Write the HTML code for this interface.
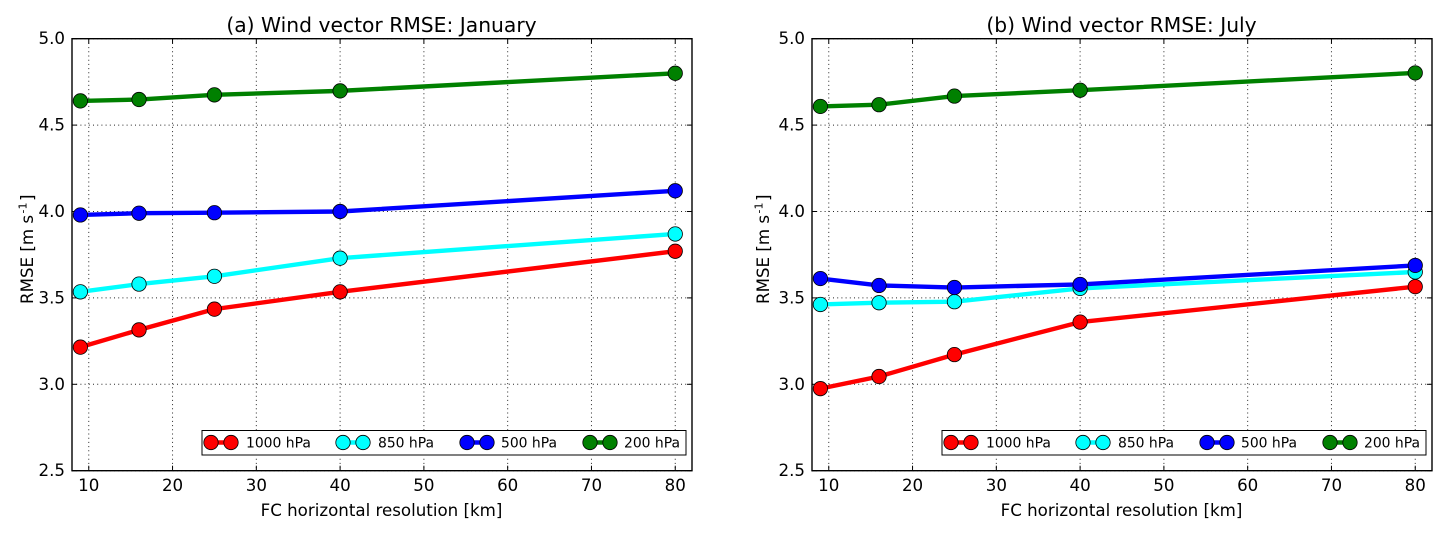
<!DOCTYPE html>
<html lang="en">
<head>
<meta charset="utf-8">
<title>Wind vector RMSE</title>
<style>
html,body{margin:0;padding:0;background:#fff;width:1452px;height:537px;overflow:hidden}
svg{display:block}
text{font-family:"DejaVu Sans","Liberation Sans",sans-serif;fill:#000}
</style>
</head>
<body>
<svg id="chart" width="1452" height="537" viewBox="0 0 1452 537" xmlns="http://www.w3.org/2000/svg"></svg>
<script>
const resolutions = [9, 16, 25, 40, 80];
const levels = ['1000 hPa', '850 hPa', '500 hPa', '200 hPa'];
const colors = ['#ff0000', '#00ffff', '#0000ff', '#008000'];
const xTicks = [10, 20, 30, 40, 50, 60, 70, 80];
const yTicks = [2.5, 3.0, 3.5, 4.0, 4.5, 5.0];
const janTitle = '(a) Wind vector RMSE: January';
const julTitle = '(b) Wind vector RMSE: July';
const jan1000 = [3.215, 3.315, 3.435, 3.535, 3.77];
const jan850 = [3.535, 3.58, 3.625, 3.73, 3.87];
const jan500 = [3.98, 3.99, 3.993, 4.0, 4.12];
const jan200 = [4.64, 4.648, 4.675, 4.698, 4.80];
const jul1000 = [2.975, 3.045, 3.172, 3.36, 3.565];
const jul850 = [3.462, 3.472, 3.478, 3.555, 3.65];
const jul500 = [3.612, 3.572, 3.56, 3.578, 3.688];
const jul200 = [4.608, 4.618, 4.668, 4.702, 4.802];

const NS = 'http://www.w3.org/2000/svg';
const root = document.getElementById('chart');
function mk(parent, tag, attrs) {
  const el = document.createElementNS(NS, tag);
  for (const k in attrs) el.setAttribute(k, attrs[k]);
  parent.appendChild(el);
  return el;
}
const xMin = 8, xMax = 82, yMin = 2.5, yMax = 5.0;
const plotW = 620, plotTop = 38.7, plotH = 432;

function drawPanel(left, prefix, title, series, yLabelOffset) {
  const sx = v => left + (v - xMin) / (xMax - xMin) * plotW;
  const sy = v => plotTop + (yMax - v) / (yMax - yMin) * plotH;
  const right = left + plotW, bottom = plotTop + plotH;
  const g = mk(root, 'g', {});
  
  

  const grid = mk(g, 'g', {stroke: '#000', 'stroke-width': 1, 'stroke-dasharray': '1 3.2', fill: 'none', opacity: 0.85});
  
  
  xTicks.forEach(t => mk(grid, 'line', {x1: sx(t), x2: sx(t), y1: plotTop, y2: bottom}));
  yTicks.forEach(t => mk(grid, 'line', {x1: left, x2: right, y1: sy(t), y2: sy(t)}));

  const ticks = mk(g, 'g', {stroke: '#000', 'stroke-width': 1});
  
  
  xTicks.forEach(t => {
    mk(ticks, 'line', {x1: sx(t), x2: sx(t), y1: bottom, y2: bottom - 5});
    mk(ticks, 'line', {x1: sx(t), x2: sx(t), y1: plotTop, y2: plotTop + 5});
  });
  yTicks.forEach(t => {
    mk(ticks, 'line', {x1: left, x2: left + 5, y1: sy(t), y2: sy(t)});
    mk(ticks, 'line', {x1: right, x2: right - 5, y1: sy(t), y2: sy(t)});
  });

  xTicks.forEach(t => {
    const lab = mk(g, 'text', {x: sx(t), y: 491, 'text-anchor': 'middle', 'font-size': 16.67});
    
    
    lab.textContent = t;
  });
  yTicks.forEach(t => {
    const lab = mk(g, 'text', {x: left - 7, y: sy(t) + 5.5, 'text-anchor': 'end', 'font-size': 16.67});
    
    
    lab.textContent = t.toFixed(1);
  });

  series.forEach((vals, i) => {
    const s = mk(g, 'g', {});
    
    
    const pts = vals.map((v, j) => sx(resolutions[j]) + ',' + sy(v)).join(' ');
    mk(s, 'polyline', {points: pts, fill: 'none', stroke: colors[i], 'stroke-width': 4.4, 'stroke-linejoin': 'round'});
    vals.forEach((v, j) => {
      const c = mk(s, 'circle', {cx: sx(resolutions[j]), cy: sy(v), r: 7.2, fill: colors[i], stroke: '#000', 'stroke-width': 0.8});
      
      
    });
  });

  const frame = mk(g, 'rect', {x: left, y: plotTop, width: plotW, height: plotH, fill: 'none', stroke: '#000', 'stroke-width': 1.4});
  
  

  const ttl = mk(g, 'text', {x: left + plotW / 2 - 0.5, y: 32, 'text-anchor': 'middle', 'font-size': 20.3});
  
  
  ttl.textContent = title;

  const xl = mk(g, 'text', {x: left + plotW / 2 - 0.5, y: 516, 'text-anchor': 'middle', 'font-size': 16.67});
  
  
  xl.textContent = 'FC horizontal resolution [km]';

  const yx = left - yLabelOffset, yy = 304;
  const yl = mk(g, 'text', {transform: 'translate(' + yx + ',' + yy + ') rotate(-90)', 'font-size': 16.67});
  
  
  const a = mk(yl, 'tspan', {});
  a.textContent = 'RMSE [m s';
  const b = mk(yl, 'tspan', {dx: 1.5, dy: -6.5, 'font-size': 11});
  b.textContent = '-1';
  const c = mk(yl, 'tspan', {dx: 1.5, dy: 6.5});
  c.textContent = ']';

  const lg = mk(g, 'g', {});
  
  
  mk(lg, 'rect', {x: left + 130, y: 430.5, width: 484, height: 24.5, fill: '#fff', stroke: '#000', 'stroke-width': 1});
  const entryX = [139, 271, 395, 518];
  const labelX = [174, 306, 429, 552];
  levels.forEach((name, i) => {
    const x0 = left + entryX[i];
    const e = mk(lg, 'g', {});
    
    
    mk(e, 'line', {x1: x0, x2: x0 + 20, y1: 442.5, y2: 442.5, stroke: colors[i], 'stroke-width': 4.4});
    mk(e, 'circle', {cx: x0, cy: 442.5, r: 7.2, fill: colors[i], stroke: '#000', 'stroke-width': 0.8});
    mk(e, 'circle', {cx: x0 + 20, cy: 442.5, r: 7.2, fill: colors[i], stroke: '#000', 'stroke-width': 0.8});
    const t = mk(e, 'text', {x: left + labelX[i], y: 447.5, 'font-size': 13.9});
    t.textContent = name;
  });
}

drawPanel(72, 'january', janTitle, [jan1000, jan850, jan500, jan200], 39);
drawPanel(812, 'july', julTitle, [jul1000, jul850, jul500, jul200], 43);
</script>
</body>
</html>
